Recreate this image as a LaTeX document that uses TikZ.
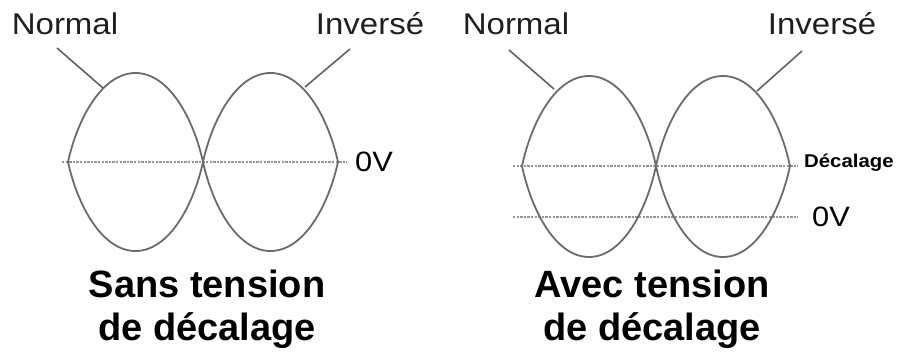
\documentclass[tikz,border=0pt]{standalone}
\usepackage{fontspec}
\setmainfont{Liberation Sans}[FakeStretch=1.1]
\newfontfamily\titlefont{Liberation Sans}[FakeStretch=1.0]
\begin{document}
\begin{tikzpicture}[x=1pt,y=-1pt,
  wave/.style={draw=black!58, line width=1.8pt},
  zero/.style={draw=black!42, line width=2.4pt, dash pattern=on 2.4pt off 1.2pt},
  leader/.style={draw=black!62, line width=1.6pt},
  lbl/.style={inner sep=0pt, text=black!88, font=\fontsize{30}{36}\selectfont, anchor=base},
  vlbl/.style={inner sep=0pt, font=\fontsize{28}{34}\selectfont, anchor=base west},
  dlbl/.style={inner sep=0pt, font=\fontsize{18.5}{22}\selectfont\bfseries, anchor=base west},
  ttl/.style={inner sep=0pt, align=center, font=\titlefont\fontsize{38}{43}\selectfont\bfseries, anchor=base}]
\useasboundingbox (0,0) rectangle (900,355);
% ---------- left panel ----------
\draw[zero] (62,162) coordinate (lz0) -- (347,162) coordinate (lz1);
\draw[wave] (68,162) .. controls (77.8,117.5) and (102.5,73) .. (135.5,73)
  .. controls (168.5,73) and (193.2,117.5) .. (203,162)
  .. controls (212.8,206.5) and (237.5,251) .. (270.5,251)
  .. controls (303.5,251) and (328.2,206.5) .. (338,162);
\draw[wave] (68,162) .. controls (77.8,206.5) and (102.5,251) .. (135.5,251)
  .. controls (168.5,251) and (193.2,206.5) .. (203,162)
  .. controls (212.8,117.5) and (237.5,73) .. (270.5,73)
  .. controls (303.5,73) and (328.2,117.5) .. (338,162);
\node[lbl] (ln) at (65,35) {Normal};
\node[lbl] (li) at (370,35) {Inversé};
\node[vlbl] (lv) at (355,172) {0V};
\coordinate (lna) at (57,48); \coordinate (lnb) at (103,88);
\coordinate (lia) at (350,49); \coordinate (lib) at (305,87);
\draw[leader] (lna) -- (lnb);
\draw[leader] (lia) -- (lib);
\node[ttl] (lt) at (207,341) {Sans tension\\de décalage};
% ---------- right panel ----------
\draw[zero] (513,166) coordinate (rd0) -- (798,166) coordinate (rd1);
\draw[zero] (513,217) coordinate (rz0) -- (798,217) coordinate (rz1);
\draw[wave] (522,166) .. controls (531.7,121) and (556,76) .. (589,76)
  .. controls (622,76) and (646.3,121) .. (656,166)
  .. controls (665.7,211.5) and (690,257) .. (723,257)
  .. controls (756,257) and (780.3,211.5) .. (790,166);
\draw[wave] (522,166) .. controls (531.7,211.5) and (556,257) .. (589,257)
  .. controls (622,257) and (646.3,211.5) .. (656,166)
  .. controls (665.7,121) and (690,76) .. (723,76)
  .. controls (756,76) and (780.3,121) .. (790,166);
\node[lbl] (rn) at (516,35) {Normal};
\node[lbl] (ri) at (822,35) {Inversé};
\node[dlbl] (rd) at (804,168) {Décalage};
\node[vlbl] (rv) at (812,227) {0V};
\coordinate (rna) at (509,50); \coordinate (rnb) at (554,89);
\coordinate (ria) at (802,51); \coordinate (rib) at (757,91);
\draw[leader] (rna) -- (rnb);
\draw[leader] (ria) -- (rib);
\node[ttl] (rt) at (652,341) {Avec tension\\de décalage};
\end{tikzpicture}
\end{document}
